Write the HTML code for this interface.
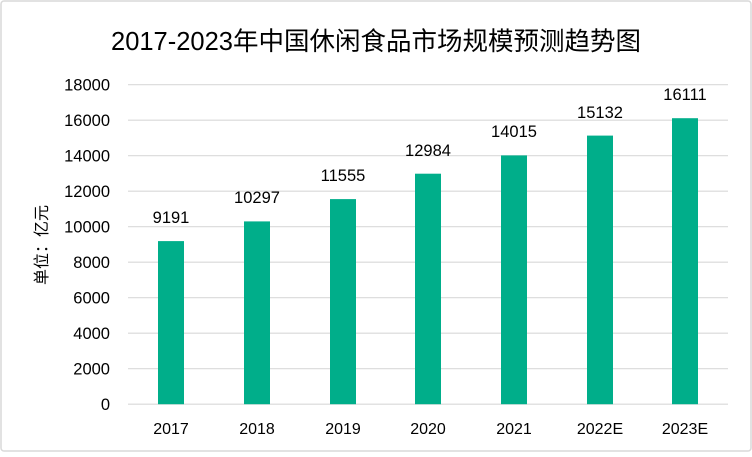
<!DOCTYPE html>
<html><head><meta charset="utf-8"><style>
body{margin:0;background:#fff}
</style></head><body>
<svg width="752" height="452" xmlns="http://www.w3.org/2000/svg" font-family="Liberation Sans, Noto Sans CJK SC, sans-serif">
<rect x="1" y="1" width="750" height="450" rx="3" fill="#fff" stroke="#d9d9d9" stroke-width="1.5"/>
<text x="376" y="50" font-size="25.5" text-anchor="middle" fill="#000">2017-2023年中国休闲食品市场规模预测趋势图</text>
<g stroke="#d9d9d9" stroke-width="1.2">
<line x1="128" x2="728" y1="84.7" y2="84.7"/>
<line x1="128" x2="728" y1="120.2" y2="120.2"/>
<line x1="128" x2="728" y1="155.7" y2="155.7"/>
<line x1="128" x2="728" y1="191.2" y2="191.2"/>
<line x1="128" x2="728" y1="226.7" y2="226.7"/>
<line x1="128" x2="728" y1="262.2" y2="262.2"/>
<line x1="128" x2="728" y1="297.7" y2="297.7"/>
<line x1="128" x2="728" y1="333.2" y2="333.2"/>
<line x1="128" x2="728" y1="368.7" y2="368.7"/>
<line x1="128" x2="728" y1="404.2" y2="404.2"/>
</g>
<g font-size="16.5" fill="#000" text-anchor="end">
<text x="110" y="90.5">18000</text><text x="110" y="126">16000</text><text x="110" y="161.5">14000</text><text x="110" y="197">12000</text><text x="110" y="232.5">10000</text><text x="110" y="268">8000</text><text x="110" y="303.5">6000</text><text x="110" y="339">4000</text><text x="110" y="374.5">2000</text><text x="110" y="410">0</text>
</g>
<text transform="translate(47,245) rotate(-90)" font-size="16" text-anchor="middle">单位：亿元</text>
<g fill="#00AE8A">
<rect x="158" y="241.1" width="26" height="163.1"/>
<rect x="244" y="221.4" width="26" height="182.8"/>
<rect x="330" y="199.1" width="26" height="205.1"/>
<rect x="415" y="173.7" width="26" height="230.5"/>
<rect x="501" y="155.4" width="26" height="248.8"/>
<rect x="587" y="135.6" width="26" height="268.6"/>
<rect x="672" y="118.2" width="26" height="286"/>
</g>
<g font-size="16.5" text-anchor="middle" fill="#000">
<text x="171" y="223">9191</text><text x="257" y="203">10297</text><text x="343" y="181">11555</text><text x="428" y="156">12984</text><text x="514" y="137">14015</text><text x="600" y="118">15132</text><text x="685" y="100">16111</text>
</g>
<g font-size="16" text-anchor="middle" fill="#000">
<text x="171" y="434">2017</text><text x="257" y="434">2018</text><text x="343" y="434">2019</text><text x="428" y="434">2020</text><text x="514" y="434">2021</text><text x="600" y="434">2022E</text><text x="685" y="434">2023E</text>
</g>
</svg>
</body></html>
